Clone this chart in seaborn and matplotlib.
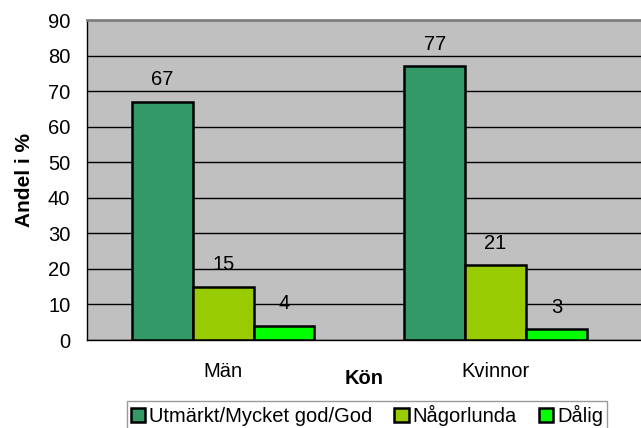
import matplotlib
matplotlib.use("Agg")
import matplotlib.pyplot as plt
import seaborn as sns
import pandas as pd

# ── Data ──────────────────────────────────────────────────────────
GROUPS = ["Män", "Kvinnor"]
CATEGORIES = ["Utmärkt/Mycket god/God", "Någorlunda", "Dålig"]
MEN = [67, 15, 4]
WOMEN = [77, 21, 3]
YTICKS = [0, 10, 20, 30, 40, 50, 60, 70, 80, 90]

COLORS = ["#339966", "#99CC00", "#00FF00"]
FS = 14.5

df = pd.DataFrame({
    "Kön": [g for g in GROUPS for _ in CATEGORIES],
    "Svar": CATEGORIES * len(GROUPS),
    "Andel": MEN + WOMEN,
})

sns.set_style("white", {"text.color": "black", "axes.labelcolor": "black",
                        "xtick.color": "black", "ytick.color": "black"})
plt.rcParams["font.family"] = ["Liberation Sans", "DejaVu Sans"]

fig = plt.figure(figsize=(6.41, 4.28), dpi=100)
ax = fig.add_axes([87 / 641, 1 - 340 / 428, (641 - 87) / 641, 320 / 428])
ax.set_facecolor("#C0C0C0")

sns.barplot(
    data=df, x="Kön", y="Andel", hue="Svar", order=GROUPS,
    hue_order=CATEGORIES, palette=COLORS, width=0.67,
    edgecolor="black", linewidth=1.8, ax=ax, saturation=1,
)

# value labels above each bar
for container in ax.containers:
    for bar in container:
        h = bar.get_height()
        ax.annotate(f"{h:.0f}", (bar.get_x() + bar.get_width() / 2, h),
                    xytext=(0, 16), textcoords="offset points",
                    ha="center", va="center", fontsize=FS, color="black")

ax.set_ylim(0, 90)
ax.set_yticks(YTICKS)
ax.set_xlim(-0.499, 1.534)
ax.yaxis.grid(True, color="black", linewidth=1)
ax.set_axisbelow(True)

# Excel-style category ticks between groups
ax.set_xticks([-0.5, 0.5, 1.5], minor=False)
ax.set_xticklabels([])
ax.set_xticks([0, 1], minor=True)
ax.set_xticklabels(GROUPS, minor=True, fontsize=FS)
ax.tick_params(axis="x", which="major", direction="out", length=5, width=1, color="black")
ax.tick_params(axis="x", which="minor", length=0, pad=16)
ax.tick_params(axis="y", direction="out", length=5, width=1, color="black", labelsize=FS, pad=7)

for side in ["left", "bottom"]:
    ax.spines[side].set_color("black")
    ax.spines[side].set_linewidth(1)
ax.spines["top"].set_color("#808080")
ax.spines["top"].set_linewidth(2)
ax.spines["right"].set_visible(False)

ax.set_xlabel("Kön", fontsize=FS, fontweight="bold", labelpad=-9)
ax.set_ylabel("Andel i %", fontsize=FS + 0.5, fontweight="bold", labelpad=10)

ax.legend(
    loc="upper center", bbox_to_anchor=(367 / 641, 27 / 428), bbox_transform=fig.transFigure,
    ncol=3, frameon=True, fancybox=False, edgecolor="#808080", fontsize=FS,
    handlelength=0.7, handleheight=0.7, handletextpad=0.2, columnspacing=1.1,
    borderpad=0.2, borderaxespad=0, title=None,
)
leg = ax.get_legend()
leg.get_frame().set_linewidth(1)

fig.savefig("out.png", dpi=100)
plt.close(fig)
